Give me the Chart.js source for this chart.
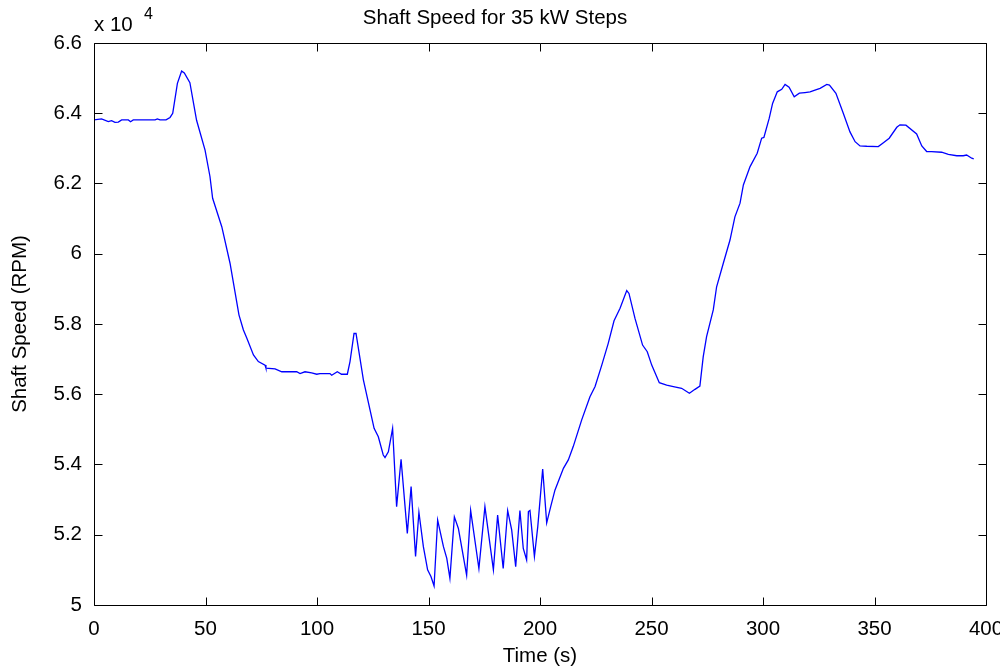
<!DOCTYPE html>
<html>
<head>
<meta charset="utf-8">
<script src="https://cdn.jsdelivr.net/npm/chart.js@4/dist/chart.umd.min.js"></script>
<style>
  html, body { margin: 0; padding: 0; background: #fff; }
  #wrap { width: 1000px; height: 670px; }
</style>
</head>
<body>
<div id="wrap"><canvas id="chart-1" width="1000" height="670"></canvas></div>
<script>
// time in seconds, shaft speed in units of 10^4 RPM
const timeS = [
  0, 3.4, 6.4, 7.9, 9.4, 10.9, 12.4, 15.4, 16.4, 17.6, 27.4, 28.4, 29.6, 32.3, 34.1, 35.3,
  37.4, 39.3, 40.5, 43, 46, 49.8, 52, 53.2, 57.3, 61, 65, 67, 68.5, 71.5, 73.7, 76.7,
  77.1, 81.2, 84.2, 90.9, 92.4, 94.6, 97.6, 99.9, 101.3, 105.8, 106.6, 109.1, 111, 113.6,
  114.8, 116.6, 117.5, 120.8, 123.8, 125.6, 127.5, 129.7, 130.5, 132, 133.9, 135.7, 137.7,
  140.5, 142.2, 144.2, 145.7, 147.7, 149.6, 151.1, 152.5, 154.1, 156.7, 158.2, 159.6, 161.6,
  163.4, 167.1, 168.9, 172.6, 175.3, 179.1, 181, 183.5, 185.5, 187.3, 189.1, 191, 192.5,
  194, 194.8, 195.5, 197.5, 199, 201.2, 203, 204.8, 206.7, 210.5, 212.7, 214.9, 218.7,
  222.4, 224.7, 227.7, 230.6, 233.2, 235.9, 238.9, 239.9, 242.6, 246, 248.1, 250.1, 253.5,
  256.8, 259.8, 263.5, 267, 269.5, 271.7, 273.2, 274.7, 277.7, 279.2, 282.2, 285.2, 287.4,
  289.7, 291.2, 294.2, 297.4, 299.4, 300.4, 302.8, 304.3, 306.4, 308.4, 309.9, 311.7, 314,
  316.3, 318.8, 321.1, 323.3, 325.6, 328.6, 329.8, 332.7, 336, 339, 341.3, 343.5, 346.5,
  351.7, 354, 356.6, 360, 361.4, 364.1, 368.9, 371.2, 373.4, 375.6, 380.1, 383.1, 386.9,
  389.8, 391.3, 393.6, 394.5
];
const shaftSpeed = [
  6.381, 6.384, 6.376, 6.379, 6.374, 6.375, 6.381, 6.381, 6.376, 6.381, 6.381, 6.384, 6.381, 6.381, 6.388, 6.40,
  6.485, 6.52, 6.515, 6.487, 6.38, 6.295, 6.22, 6.158, 6.077, 5.973, 5.826, 5.783, 5.76, 5.712, 5.693, 5.683,
  5.674, 5.672, 5.664, 5.664, 5.659, 5.664, 5.661, 5.657, 5.659, 5.659, 5.654, 5.664, 5.657, 5.657,
  5.693, 5.773, 5.773, 5.641, 5.555, 5.503, 5.479, 5.427, 5.420, 5.436, 5.503, 5.280, 5.415,
  5.204, 5.337, 5.138, 5.264, 5.166, 5.1, 5.081, 5.054, 5.242, 5.166, 5.133, 5.076, 5.251,
  5.218, 5.085, 5.269, 5.104, 5.280, 5.1, 5.256, 5.104, 5.269, 5.214, 5.109, 5.269, 5.161,
  5.128, 5.266, 5.269, 5.138, 5.223, 5.387, 5.234, 5.280, 5.327, 5.389, 5.413, 5.451, 5.527,
  5.593, 5.622, 5.683, 5.745, 5.809, 5.845, 5.895, 5.887, 5.816, 5.740, 5.721, 5.683, 5.633,
  5.626, 5.622, 5.617, 5.603, 5.614, 5.623, 5.707, 5.764, 5.840, 5.906, 5.973, 6.039, 6.105,
  6.144, 6.196, 6.248, 6.286, 6.329, 6.331, 6.386, 6.428, 6.461, 6.468, 6.482, 6.474, 6.447,
  6.457, 6.459, 6.461, 6.466, 6.471, 6.482, 6.480, 6.457, 6.400, 6.347, 6.319, 6.307, 6.306,
  6.305, 6.316, 6.329, 6.360, 6.367, 6.366, 6.341, 6.307, 6.291, 6.291, 6.289, 6.283, 6.279,
  6.279, 6.281, 6.272, 6.270
];
const xTicks = [0, 50, 100, 150, 200, 250, 300, 350, 400];
const yTicks = [5, 5.2, 5.4, 5.6, 5.8, 6, 6.2, 6.4, 6.6];

Chart.defaults.font.family = "'Liberation Sans', Arial, sans-serif";
Chart.defaults.font.size = 20;
Chart.defaults.color = "#000";

// matlab style box, inward ticks, title and exponent note
const matlabBox = {
  id: "matlabBox",
  afterDraw(chart) {
    const { ctx, chartArea: a, scales } = chart;
    ctx.save();
    ctx.strokeStyle = "#000";
    ctx.lineWidth = 1;
    ctx.beginPath();
    const L = Math.round(a.left) + 0.5, R = Math.round(a.right) + 0.5;
    const T = Math.round(a.top) + 0.5, B = Math.round(a.bottom) + 0.5;
    ctx.rect(L, T, R - L, B - T);
    const len = 8;
    xTicks.forEach(v => {
      const px = Math.round(scales.x.getPixelForValue(v)) + 0.5;
      ctx.moveTo(px, B); ctx.lineTo(px, B - len);
      ctx.moveTo(px, T); ctx.lineTo(px, T + len);
    });
    yTicks.forEach(v => {
      const py = Math.round(scales.y.getPixelForValue(v)) + 0.5;
      ctx.moveTo(L, py); ctx.lineTo(L + len, py);
      ctx.moveTo(R, py); ctx.lineTo(R - len, py);
    });
    ctx.stroke();

    ctx.fillStyle = "#000";
    ctx.textBaseline = "middle";
    ctx.textAlign = "center";
    ctx.font = "20.5px 'Liberation Sans', Arial, sans-serif";
    ctx.fillText("Shaft Speed for 35 kW Steps", 495, 18);
    ctx.textAlign = "left";
    ctx.fillText("x 10", 94, 25);
    ctx.font = "16px 'Liberation Sans', Arial, sans-serif";
    ctx.fillText("4", 144, 15);
    ctx.restore();
  }
};

const chart1 = new Chart(document.getElementById("chart-1"), {
  type: "line",
  data: {
    datasets: [{
      data: timeS.map((t, i) => ({ x: t, y: shaftSpeed[i] })),
      borderColor: "#0000ff",
      borderWidth: 1.3,
      pointRadius: 0,
      tension: 0,
      fill: false
    }]
  },
  options: {
    responsive: false,
    animation: false,
    layout: { padding: { top: 43, right: 14, left: 0, bottom: 0 } },
    plugins: { legend: { display: false }, tooltip: { enabled: false } },
    scales: {
      x: {
        type: "linear",
        min: 0, max: 400,
        afterFit(s) { s.height = 65; s.paddingLeft = 0; s.paddingRight = 0; },
        afterBuildTicks(s) { s.ticks = xTicks.map(v => ({ value: v })); },
        grid: { display: false, drawTicks: false },
        border: { display: false },
        ticks: { padding: 12, font: { size: 20.5 }, maxRotation: 0 },
        title: { display: true, text: "Time (s)", font: { size: 20.5 }, padding: { top: 0, bottom: 1 } }
      },
      y: {
        min: 5, max: 6.6,
        afterFit(s) { s.width = 94; s.paddingTop = 0; s.paddingBottom = 0; },
        afterBuildTicks(s) { s.ticks = yTicks.map(v => ({ value: v })); },
        grid: { display: false, drawTicks: false },
        border: { display: false },
        ticks: { padding: 12, font: { size: 20.5 }, callback: v => String(+v.toFixed(1)) },
        title: { display: true, text: "Shaft Speed (RPM)", font: { size: 20.5 }, padding: { top: 8, bottom: 0 } }
      }
    }
  },
  plugins: [matlabBox]
});
</script>
</body>
</html>
